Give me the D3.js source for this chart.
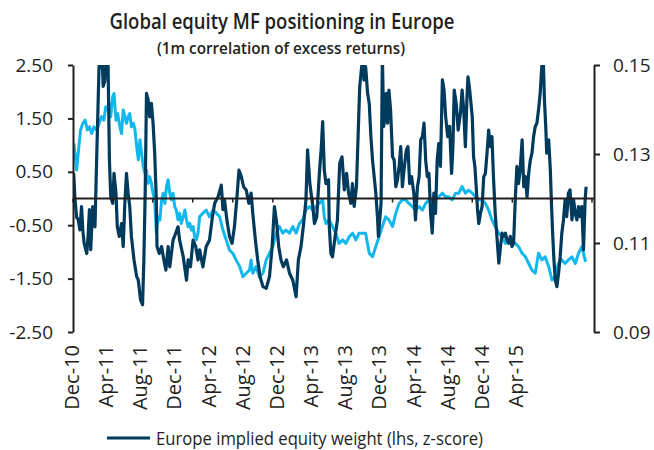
<!DOCTYPE html>
<html>
<head>
<meta charset="utf-8">
<script src="https://cdn.jsdelivr.net/npm/d3@7"></script>
<style>
  body { margin: 0; background: #fff; }
  text { font-family: "Open Sans", sans-serif; fill: #231f20; }
</style>
</head>
<body>
<script>
// days counted from 1 Dec 2010
var startDate = new Date(2010, 11, 1);

var monthLabels = ["Dec-10", "Apr-11", "Aug-11", "Dec-11", "Apr-12", "Aug-12", "Dec-12",
                   "Apr-13", "Aug-13", "Dec-13", "Apr-14", "Aug-14", "Dec-14", "Apr-15"];
var lhsTicks = [2.5, 1.5, 0.5, -0.5, -1.5, -2.5];
var rhsTicks = [0.15, 0.13, 0.11, 0.09];

// Europe implied equity weight (lhs, z-score)
var weightDay = [2,6,11,16,21,26,30,34,42,46,50,54,60,67,72,77,80,84,88,92,97,102,107,111,115,121,125,131,135,141,
  148,153,158,163,168,173,178,186,194,199,206,212,216,220,224,229,234,239,244,249,254,256,263,270,277,283,290,295,305,313,
  320,325,336,346,351,358,366,374,381,386,396,406,416,425,432,442,452,457,462,469,477,485,492,499,506,513,520,528,536,543,
  548,556,563,570,579,589,599,607,614,621,627,634,641,651,660,670,680,687,695,702,710,715,722,731,736,743,751,757,761,766,
  771,779,781,786,791,799,806,813,820,827,834,840,847,852,857,864,870,874,880,884,887,892,898,903,908,913,918,923,928,931,
  935,939,943,947,951,955,959,963,968,974,979,984,989,994,999,1004,1009,1016,1021,1026,1032,1039,1044,1050,1055,1060,1065,1070,1075,1080,
  1085,1090,1095,1100,1105,1110,1115,1120,1126,1131,1136,1142,1148,1154,1158,1162,1168,1174,1181,1186,1191,1196,1201,1204,1208,1212,1217,1221,1225,1229,
  1233,1237,1242,1247,1252,1257,1262,1267,1272,1277,1282,1287,1293,1298,1303,1308,1313,1318,1323,1328,1333,1338,1343,1348,1353,1358,1363,1369,1374,1379,
  1384,1389,1394,1399,1404,1409,1414,1419,1424,1429,1433,1437,1441,1444,1450,1455,1458,1462,1466,1470,1475,1480,1485,1490,1495,1500,1505,1510,1515,1521,
  1526,1531,1536,1541,1546,1551,1556,1561,1564];
var weightZ = [0.48,0.0,-0.35,-0.4,-0.59,-0.15,-0.6,-0.84,-1.03,-0.7,-0.21,-0.96,-0.15,-0.53,0.72,1.9,2.6,2.45,2.8,2.1,2.2,2.8,2.47,0.72,0.03,-0.09,0.47,0.1,-0.53,-0.71,
  -0.47,-0.9,-0.09,0.47,0.1,-0.15,-0.71,-1.15,-1.46,-1.53,-1.9,-1.99,-1.15,0.1,1.97,1.85,1.53,1.78,1.41,0.85,-0.03,-0.9,-1.03,-0.9,-1.15,-1.34,-0.9,-1.28,-0.78,-0.65,
  -0.53,-0.78,-1.09,-1.53,-1.15,-1.28,-0.78,-0.9,-1.15,-0.96,-1.28,-0.9,-0.78,-0.34,-0.09,0.03,0.25,-0.21,-0.03,-0.4,-0.71,-0.84,-0.53,-0.03,0.53,0.41,0.22,0.16,-0.09,0.1,
  -0.28,-0.78,-1.15,-1.46,-1.65,-1.68,-1.46,-0.9,-0.15,-0.47,-0.9,-1.15,-1.28,-1.15,-1.4,-1.53,-1.84,-1.15,-0.9,-0.53,-0.03,0.91,0.28,-0.15,-0.47,-0.34,0.47,0.97,1.44,0.53,
  0.28,0.35,-0.5,-1.03,-1.09,-0.71,-0.4,0.66,0.78,0.16,0.47,0.1,-0.09,0.28,-0.15,0.22,1.35,2.1,2.47,2.7,2.22,2.47,1.97,1.78,1.16,0.72,0.41,0.1,-0.34,-0.71,
  -0.4,-0.09,2.7,1.35,1.53,1.97,1.41,2.03,1.66,0.78,0.72,0.22,0.35,0.6,0.97,0.22,0.53,0.91,0.97,0.28,0.41,0.1,-0.4,0.22,0.41,1.1,1.16,1.41,0.72,0.41,
  0.47,-0.28,-0.65,0.1,-0.28,0.72,1.03,0.6,2.22,2.03,1.53,1.16,1.35,0.47,0.97,2.03,1.78,1.28,1.6,2.03,1.66,0.97,1.91,2.28,2.1,1.85,1.53,0.78,0.6,0.22,
  -0.21,-0.47,-0.28,-0.15,0.41,0.47,0.85,1.28,0.97,1.16,0.35,-0.28,-0.78,-1.21,-0.9,-0.65,-0.71,-0.65,-0.78,-0.84,-0.71,-0.9,-0.84,-0.03,0.6,0.28,0.53,1.1,0.22,0.41,
  0.03,0.47,0.72,0.85,1.16,1.35,1.41,1.66,1.97,2.47,2.7,1.85,1.35,0.85,1.1,0.53,-0.03,-0.65,-1.15,-1.53,-1.65,-1.4,-1.09,-0.65,-0.4,-0.03,-0.34,0.1,0.16,-0.4,
  -0.03,-0.28,-0.4,-0.15,-0.34,-0.15,-0.96,-0.03,0.22];

// 1m correlation of excess returns (rhs)
var corrDay = [3,11,16,23,30,37,44,50,57,64,72,80,87,94,100,104,111,115,121,125,131,136,143,148,153,158,163,168,173,178,
  184,189,194,199,204,209,214,219,224,229,234,239,244,249,254,260,265,270,275,280,285,290,295,300,305,310,315,320,325,330,
  336,341,346,351,356,361,366,371,376,381,386,396,406,416,427,437,447,457,467,477,487,497,508,518,528,538,543,548,558,568,
  579,589,599,609,619,629,639,649,660,670,680,690,700,710,720,731,741,751,761,766,771,781,791,801,811,822,832,842,852,862,
  872,882,892,903,913,923,933,943,953,963,974,984,994,1004,1014,1024,1034,1044,1055,1065,1075,1085,1095,1105,1115,1126,1136,1146,1156,1166,
  1176,1186,1196,1206,1217,1227,1237,1247,1257,1267,1277,1287,1298,1308,1318,1328,1338,1348,1358,1369,1379,1389,1399,1409,1419,1429,1439,1450,1460,1470,
  1480,1490,1500,1510,1521,1531,1541,1551,1561,1564];
var corrVal = [0.1324,0.1264,0.1302,0.1354,0.1369,0.1376,0.1354,0.1361,0.1346,0.1361,0.1354,0.1369,0.1384,0.1376,0.1406,0.1399,0.1414,0.1384,0.1429,0.1436,
  0.1376,0.1391,0.1361,0.1346,0.1399,0.1384,0.1369,0.1384,0.1391,0.1361,0.1369,0.1354,0.1317,0.1287,0.1332,0.1302,0.1272,0.1257,0.1264,0.1234,
  0.1249,0.1234,0.1212,0.1197,0.1122,0.1159,0.1152,0.1197,0.1212,0.1189,0.1227,0.1242,0.1212,0.1197,0.1212,0.1182,0.1174,0.1152,0.1167,0.1144,
  0.1159,0.1174,0.1152,0.1137,0.1144,0.1129,0.1137,0.1114,0.1107,0.1122,0.1159,0.1167,0.1174,0.1159,0.1174,0.1167,0.1159,0.1129,0.1107,0.1084,
  0.1077,0.1062,0.1047,0.1024,0.1032,0.1039,0.1062,0.1032,0.1047,0.1024,0.1032,0.1062,0.1077,0.1092,0.1122,0.1137,0.1122,0.1129,0.1122,0.1137,
  0.1122,0.1144,0.1152,0.1174,0.1182,0.1174,0.1182,0.1189,0.1197,0.1159,0.1144,0.1152,0.1137,0.1122,0.1099,0.1107,0.1099,0.1114,0.1122,0.1107,
  0.1122,0.1122,0.1122,0.1077,0.1069,0.1092,0.1114,0.1137,0.1159,0.1152,0.1137,0.1167,0.1189,0.1197,0.1197,0.1189,0.1182,0.1174,0.1182,0.1174,
  0.1189,0.1197,0.1197,0.1197,0.1204,0.1212,0.1204,0.1204,0.1197,0.1212,0.1212,0.1227,0.1212,0.1219,0.1212,0.1204,0.1197,0.1197,0.1189,0.1174,
  0.1152,0.1137,0.1122,0.1114,0.1099,0.1107,0.1107,0.1099,0.1092,0.1077,0.1069,0.1054,0.1039,0.1032,0.1077,0.1062,0.1069,0.1047,0.1017,0.1024,
  0.1054,0.1062,0.1054,0.1062,0.1069,0.1054,0.1077,0.1092,0.1062,0.1058];

var darkBlue = "#003a5d";
var lightBlue = "#12b8ed";

var svg = d3.select("body").append("svg")
            .attr("width", 654)
            .attr("height", 450);

var x = d3.scaleTime()
          .domain([startDate, new Date(2015, 3, 1)])
          .range([73, 592]);
var yL = d3.scaleLinear().domain([-2.5, 2.5]).range([332, 65]);
var yR = d3.scaleLinear().domain([0.09, 0.15]).range([332, 65]);
// the category labels sit a little compressed under the ticks in the original
var xLabel = d3.scalePoint().domain(monthLabels).range([72, 516]);

var toDate = function (d) { return d3.timeDay.offset(startDate, d); };

var weight = weightDay.map(function (d, i) { return { date: toDate(d), v: weightZ[i] }; });
var corr = corrDay.map(function (d, i) { return { date: toDate(d), v: corrVal[i] }; });

svg.append("clipPath").attr("id", "plot")
   .append("rect").attr("x", 73).attr("y", 65).attr("width", 521).attr("height", 267);

// titles
svg.append("text")
   .attr("x", 282).attr("y", 29)
   .attr("text-anchor", "middle")
   .attr("textLength", 345).attr("lengthAdjust", "spacingAndGlyphs")
   .style("font-size", "21px").style("font-weight", 600)
   .text("Global equity MF positioning in Europe");
svg.append("text")
   .attr("x", 281).attr("y", 54)
   .attr("text-anchor", "middle")
   .attr("textLength", 248).attr("lengthAdjust", "spacingAndGlyphs")
   .style("font-size", "16px").style("font-weight", 600)
   .text("(1m correlation of excess returns)");

// lines
var lineL = d3.line().x(function (d) { return x(d.date); }).y(function (d) { return yL(d.v); });
var lineR = d3.line().x(function (d) { return x(d.date); }).y(function (d) { return yR(d.v); });

svg.append("path").datum(corr)
   .attr("clip-path", "url(#plot)")
   .attr("fill", "none").attr("stroke", lightBlue).attr("stroke-width", 3)
   .attr("stroke-linejoin", "round")
   .attr("d", lineR);

svg.append("path").datum(weight)
   .attr("clip-path", "url(#plot)")
   .attr("fill", "none").attr("stroke", darkBlue).attr("stroke-width", 3.2)
   .attr("stroke-linejoin", "round")
   .attr("d", lineL);

// zero line with month ticks
var zero = svg.append("g").attr("transform", "translate(0," + yL(0) + ")");
zero.append("line").attr("x1", 73).attr("x2", 594)
    .attr("stroke", "#231f20").attr("stroke-width", 2);
zero.selectAll(".mt")
    .data(monthLabels.map(function (m, i) { return d3.timeMonth.offset(startDate, i * 4); }))
    .enter().append("line")
    .attr("x1", function (d) { return x(d); }).attr("x2", function (d) { return x(d); })
    .attr("y1", 0).attr("y2", 4)
    .attr("stroke", "#231f20").attr("stroke-width", 1.5);

// axes
var fmt = function (d) { return d.toFixed(2); };
var gL = svg.append("g").attr("transform", "translate(73,0)")
   .call(d3.axisLeft(yL).tickValues(lhsTicks).tickFormat(fmt).tickSize(5).tickSizeOuter(0).tickPadding(15));
var gR = svg.append("g").attr("transform", "translate(594,0)")
   .call(d3.axisRight(yR).tickValues(rhsTicks).tickFormat(fmt).tickSize(6).tickSizeOuter(0).tickPadding(13));
[gL, gR].forEach(function (g) {
  g.select(".domain").attr("stroke", "#231f20").attr("stroke-width", 2);
  g.selectAll(".tick line").attr("stroke", "#231f20").attr("stroke-width", 2);
  g.selectAll(".tick text").style("font-size", "19px").attr("fill", "#231f20")
   .style("font-family", "'Open Sans', sans-serif");
});

// rotated month labels
svg.selectAll(".xl")
   .data(monthLabels)
   .enter().append("text")
   .attr("transform", function (d) { return "translate(" + xLabel(d) + ",345) rotate(-90)"; })
   .attr("text-anchor", "end")
   .attr("dy", "0.35em")
   .style("font-size", "20px")
   .text(function (d) { return d; });

// legend
svg.append("line").attr("x1", 107).attr("x2", 150).attr("y1", 438).attr("y2", 438)
   .attr("stroke", darkBlue).attr("stroke-width", 3);
svg.append("text")
   .attr("x", 156).attr("y", 445)
   .attr("textLength", 327).attr("lengthAdjust", "spacingAndGlyphs")
   .style("font-size", "18px")
   .text("Europe implied equity weight (lhs, z-score)");
</script>
</body>
</html>
